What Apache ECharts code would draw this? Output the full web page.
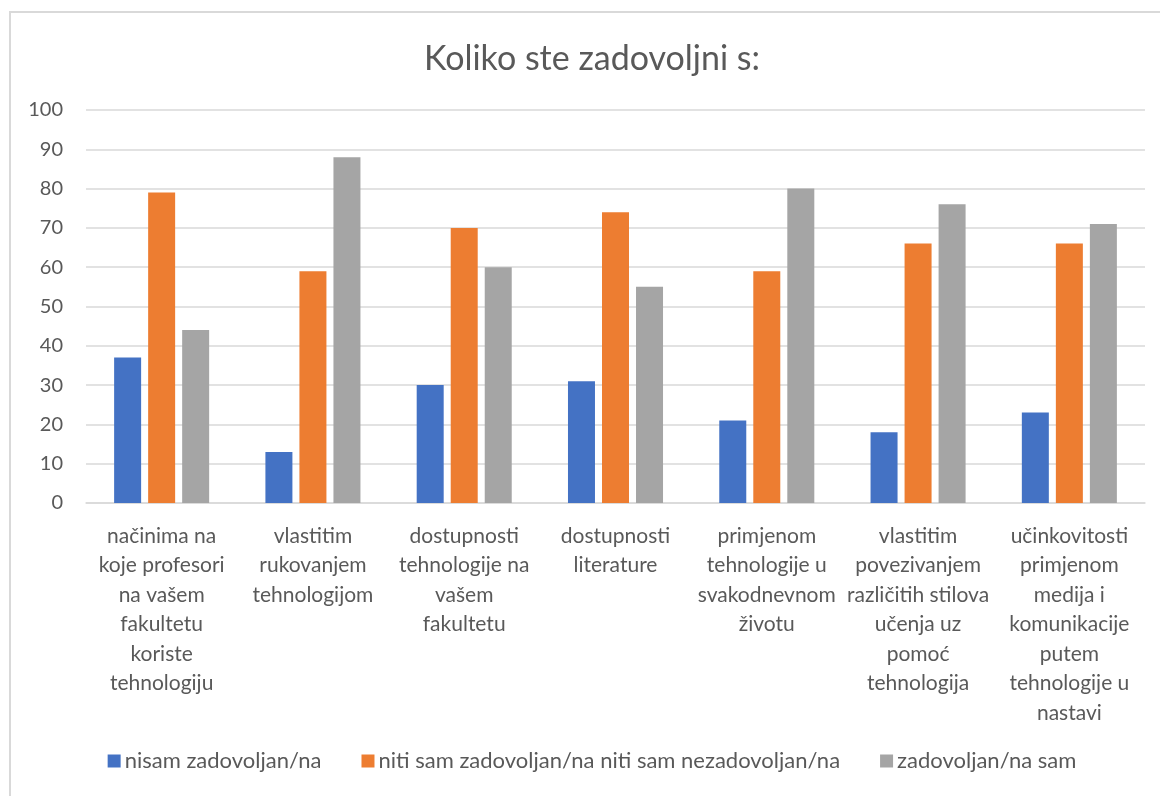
<!DOCTYPE html>
<html>
<head>
<meta charset="utf-8">
<script src="https://cdn.jsdelivr.net/npm/echarts@6/dist/echarts.min.js"></script>
<style>
  html, body { margin: 0; padding: 0; background: #fff; overflow: hidden; }
  #frame {
    position: absolute; left: 9px; top: 11px; width: 1300px; height: 900px;
    border: 2px solid #d9d9d9; box-sizing: border-box;
  }
  #chart { position: absolute; left: 0; top: 0; width: 1184px; height: 796px; }
</style>
</head>
<body>
<div id="frame"></div>
<div id="chart"></div>
<script>
const categories = [
  'načinima na\nkoje profesori\nna vašem\nfakultetu\nkoriste\ntehnologiju',
  'vlastitim\nrukovanjem\ntehnologijom',
  'dostupnosti\ntehnologije na\nvašem\nfakultetu',
  'dostupnosti\nliterature',
  'primjenom\ntehnologije u\nsvakodnevnom\nživotu',
  'vlastitim\npovezivanjem\nrazličitih stilova\nučenja uz\npomoć\ntehnologija',
  'učinkovitosti\nprimjenom\nmedija i\nkomunikacije\nputem\ntehnologije u\nnastavi'
]
const seriesNames = [
  'nisam zadovoljan/na',
  'niti sam zadovoljan/na niti sam nezadovoljan/na',
  'zadovoljan/na sam'
]
const nisamZadovoljan = [37, 13, 30, 31, 21, 18, 23]
const nitiNiti = [79, 59, 70, 74, 59, 66, 66]
const zadovoljan = [44, 88, 60, 55, 80, 76, 71]
const colors = ['#4472C4', '#ED7D31', '#A5A5A5']

const font = 'Lato, "Open Sans", sans-serif'
const chart = echarts.init(document.getElementById('chart'))

chart.setOption({
  backgroundColor: 'transparent',
  animation: false,
  title: {
    text: 'Koliko ste zadovoljni s:',
    left: 'center',
    top: 37,
    textStyle: { color: '#595959', fontSize: 34, fontWeight: 'normal', fontFamily: font }
  },
  legend: {
    bottom: 19,
    left: 'center',
    itemWidth: 13,
    itemHeight: 13,
    itemGap: 40,
    icon: 'rect',
    textStyle: { color: '#595959', fontSize: 22, fontFamily: font, padding: [0, 0, 0, -1] },
    data: seriesNames
  },
  grid: { left: 86, right: 39, top: 110, bottom: 293 },
  xAxis: {
    type: 'category',
    data: categories,
    axisLine: { lineStyle: { color: '#d9d9d9', width: 1.5 } },
    axisTick: { show: false },
    axisLabel: {
      color: '#595959', fontSize: 21, fontFamily: font,
      lineHeight: 29.5, margin: 18, interval: 0
    }
  },
  yAxis: {
    type: 'value',
    min: 0,
    max: 100,
    interval: 10,
    axisLine: { show: false },
    axisTick: { show: false },
    axisLabel: { color: '#595959', fontSize: 20, fontFamily: font, margin: 23 },
    splitLine: { lineStyle: { color: '#d9d9d9', width: 1.5 } }
  },
  series: [nisamZadovoljan, nitiNiti, zadovoljan].map((d, i) => ({
    name: seriesNames[i],
    type: 'bar',
    data: d,
    barWidth: 27,
    barGap: '26%',
    itemStyle: { color: colors[i] }
  }))
})
</script>
</body>
</html>
